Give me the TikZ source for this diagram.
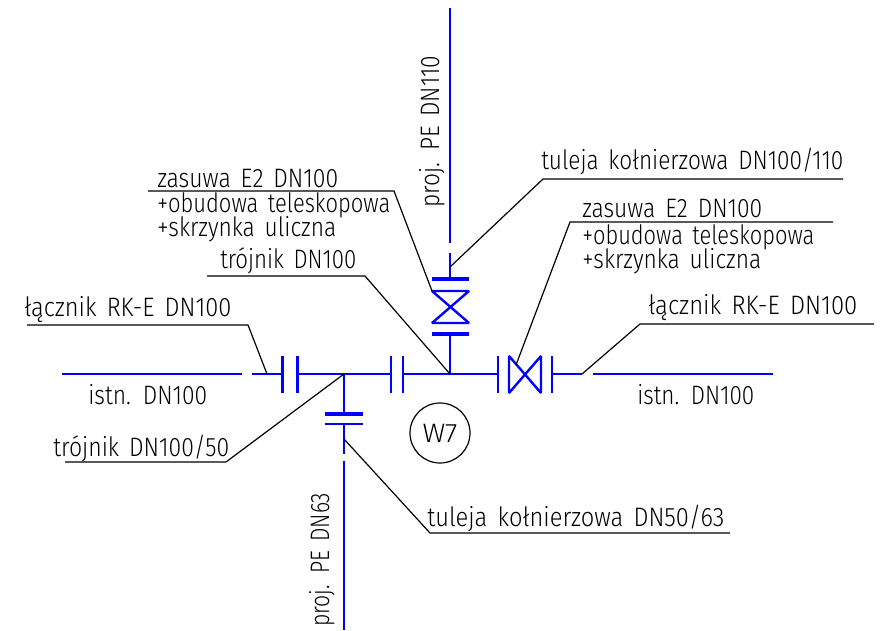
\documentclass[tikz,border=0pt]{standalone}
\usepackage{fontspec}
\usepackage{graphicx}
\setmainfont{Fira Sans Light}[WordSpace=1.55]
\newlength{\pxu}\setlength{\pxu}{0.75pt}
\newcommand{\lbl}[2]{\resizebox{#1\pxu}{\height}{\fontsize{20}{23}\selectfont #2}}
\tikzset{
  x=0.75pt,y=-0.75pt,
  pipe/.style={draw=pipeblue,line width=2pt},
  flthin/.style={draw=pipeblue,line width=2pt},
  flthick/.style={draw=pipeblue,line width=3pt},
  leader/.style={draw=black,line width=0.9pt,line join=miter},
  txt/.style={inner sep=0pt,anchor=base west,text=black},
  vtxt/.style={inner sep=0pt,anchor=base west,text=black,rotate=90}
}
\definecolor{pipeblue}{RGB}{0,0,255}
\begin{document}
\begin{tikzpicture}
\useasboundingbox (0,0) rectangle (882,631);
% key points
\coordinate (T1) at (344,374);
\coordinate (T2) at (450,374);
% pipes
\draw[pipe] (62,374) -- (242,374);
\draw[pipe] (252,374) -- (282,374);
\draw[pipe] (297,374) -- (391,374);
\draw[pipe] (403,374) -- (498,374);
\draw[pipe] (552,374) -- (582,374);
\draw[pipe] (593,374) -- (773,374);
\draw[pipe] (T2) -- (450,334);
\draw[pipe] (450,279) -- (450,253);
\draw[pipe] (450,243) -- (450,8);
\draw[pipe] (T1) -- (344,414);
\draw[pipe] (344,424) -- (344,454);
\draw[pipe] (344,461) -- (344,630);
% flanges
\draw[flthin] (282.5,356) -- (282.5,393);
\draw[flthin] (297.5,356) -- (297.5,393);
\draw[flthin] (391,356) -- (391,393);
\draw[flthin] (403,356) -- (403,393);
\draw[flthin] (498,356) -- (498,393);
\draw[flthin] (552,356) -- (552,393);
\draw[flthick] (432,279) -- (469,279);
\draw[flthick] (432,334) -- (469,334);
\draw[flthick] (325,414) -- (363,414);
\draw[flthin] (325,424) -- (363,424);
% valves
\draw[pipe,line width=1.8pt,line join=miter,miter limit=2] (432,291) -- (469,291) -- (432,323) -- (469,323) -- cycle;
\draw[pipe,line width=1.8pt,line join=miter,miter limit=2] (509,356) -- (509,393) -- (541,356) -- (541,393) -- cycle;
% leaders
\coordinate (a1) at (148,191); \coordinate (a2) at (394,191); \coordinate (a3) at (432,291);
\draw[leader] (a1) -- (a2) -- (a3);
\coordinate (b1) at (843,179); \coordinate (b2) at (543,179); \coordinate (b3) at (450,267);
\draw[leader] (b1) -- (b2) -- (b3);
\coordinate (c1) at (207,276); \coordinate (c2) at (365,276);
\draw[leader] (c1) -- (c2) -- (T2);
\coordinate (d1) at (27,325); \coordinate (d2) at (248,325); \coordinate (d3) at (267,374);
\draw[leader] (d1) -- (d2) -- (d3);
\coordinate (e1) at (874,324); \coordinate (e2) at (640,324); \coordinate (e3) at (582,374);
\draw[leader] (e1) -- (e2) -- (e3);
\coordinate (f1) at (833,222); \coordinate (f2) at (570,222); \coordinate (f3) at (516,365);
\draw[leader] (f1) -- (f2) -- (f3);
\coordinate (g1) at (65,462); \coordinate (g2) at (226,462);
\draw[leader] (g1) -- (g2) -- (T1);
\coordinate (h1) at (730,533); \coordinate (h2) at (430,533); \coordinate (h3) at (344,439);
\draw[leader] (h1) -- (h2) -- (h3);
% circle
\node[circle,draw=black,line width=0.9pt,minimum size=45pt,inner sep=0pt] (w7) at (440,433) {\lbl{35}{W7}};
% labels
\node[txt] (t1) at (157,187) {\lbl{181}{zasuwa E2 DN100}};
\node[txt] (t2) at (157,213) {\lbl{233}{+obudowa teleskopowa}};
\node[txt] (t3) at (157,237) {\lbl{179}{+skrzynka uliczna}};
\node[txt] (t4) at (220,268) {\lbl{136}{trójnik DN100}};
\node[txt] (t5) at (541,170) {\lbl{302}{tuleja kołnierzowa DN100/110}};
\node[txt] (t6) at (582,217) {\lbl{180}{zasuwa E2 DN100}};
\node[txt] (t7) at (582,244) {\lbl{232}{+obudowa teleskopowa}};
\node[txt] (t8) at (582,268) {\lbl{179}{+skrzynka uliczna}};
\node[txt] (t9) at (24,316) {\lbl{207}{łącznik RK-E DN100}};
\node[txt] (t10) at (648,315) {\lbl{209}{łącznik RK-E DN100}};
\node[txt] (t11) at (88,404) {\lbl{119}{istn. DN100}};
\node[txt] (t12) at (637,404) {\lbl{117}{istn. DN100}};
\node[txt] (t13) at (53,456) {\lbl{176}{trójnik DN100/50}};
\node[txt] (t14) at (427,526) {\lbl{297}{tuleja kołnierzowa DN50/63}};
\node[vtxt] (t15) at (439,208) {\lbl{152}{proj. PE DN110}};
\node[vtxt] (t16) at (329,627) {\lbl{134}{proj. PE DN63}};
\end{tikzpicture}
\end{document}
